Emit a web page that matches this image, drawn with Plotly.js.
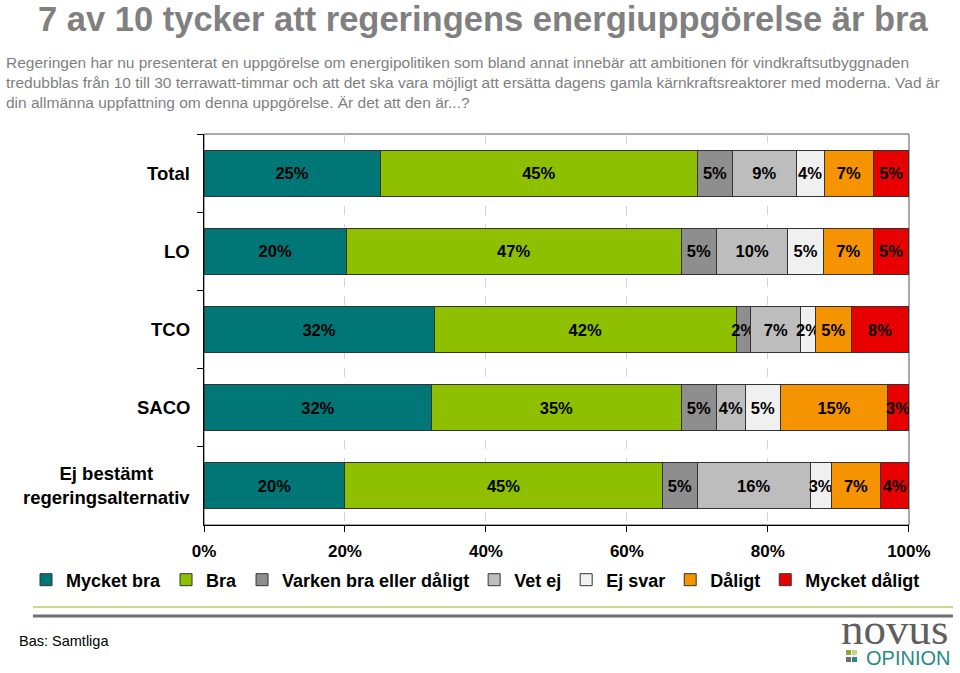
<!DOCTYPE html>
<html>
<head>
<meta charset="utf-8">
<script src="https://cdn.plot.ly/plotly-3.0.1.min.js"></script>
<style>
  html, body { margin: 0; padding: 0; background: #ffffff; }
  #chart { width: 960px; height: 673px; }
</style>
</head>
<body>
<div id="chart"></div>
<script>
// ---- Data ----
const categories = ['Total', 'LO', 'TCO', 'SACO', 'Ej bestämt<br>regeringsalternativ'];
const seriesNames = ['Mycket bra', 'Bra', 'Varken bra eller dåligt', 'Vet ej', 'Ej svar', 'Dåligt', 'Mycket dåligt'];
const mycketBra    = [25, 20, 32, 32, 20];
const bra          = [45, 47, 42, 35, 45];
const varken       = [5, 5, 2, 5, 5];
const vetEj        = [9, 10, 7, 4, 16];
const ejSvar       = [4, 5, 2, 5, 3];
const daligt       = [7, 7, 5, 15, 7];
const mycketDaligt = [5, 5, 8, 3, 4];
const xTickValues  = [0, 20, 40, 60, 80, 100];

const seriesValues = [mycketBra, bra, varken, vetEj, ejSvar, daligt, mycketDaligt];
const seriesColors = ['#007676', '#8fc000', '#8e8e8e', '#bdbdbd', '#f0f0f0', '#f59300', '#e80000'];

const FONT = 'Liberation Sans, Arial, Helvetica, sans-serif';

const traces = seriesNames.map((name, i) => ({
  type: 'bar',
  orientation: 'h',
  name: name,
  y: categories,
  x: seriesValues[i],
  text: seriesValues[i].map(v => v + '%'),
  textposition: 'inside',
  insidetextanchor: 'middle',
  constraintext: 'none',
  textangle: 0,
  textfont: { family: FONT, size: 16.5, color: '#000000', weight: 'bold' },
  marker: { color: seriesColors[i], line: { color: '#333333', width: 1 } },
  hoverinfo: 'skip'
}));

// plot area in px: x 204..909, y 134..525
const pl = 204, pr = 909, pt = 134, pb = 525;
const px2paperX = px => (px - pl) / (pr - pl);
const px2paperY = py => (pb - py) / (pb - pt);

const annotations = [];
// Category labels (centered multi-line)
categories.forEach(c => {
  annotations.push({
    xref: 'paper', yref: 'y', x: px2paperX(192), y: c,
    xanchor: 'right', yanchor: 'middle', align: 'center',
    text: c, showarrow: false,
    font: { family: FONT, size: 18.5, color: '#000000', weight: 'bold' }
  });
});
// Subtitle
annotations.push({
  xref: 'paper', yref: 'paper', x: px2paperX(4), y: px2paperY(52),
  xanchor: 'left', yanchor: 'top', align: 'left', showarrow: false,
  text: 'Regeringen har nu presenterat en uppgörelse om energipolitiken som bland annat innebär att ambitionen för vindkraftsutbyggnaden<br>' +
        'tredubblas från 10 till 30 terrawatt-timmar och att det ska vara möjligt att ersätta dagens gamla kärnkraftsreaktorer med moderna. Vad är<br>' +
        'din allmänna uppfattning om denna uppgörelse. Är det att den är...?',
  font: { family: FONT, size: 15.5, color: '#7f7f7f' }
});
// Footer
annotations.push({
  xref: 'paper', yref: 'paper', x: px2paperX(17), y: px2paperY(641),
  xanchor: 'left', yanchor: 'middle', showarrow: false,
  text: 'Bas: Samtliga',
  font: { family: FONT, size: 14.5, color: '#000000' }
});
// Logo text
annotations.push({
  xref: 'paper', yref: 'paper', x: px2paperX(951), y: px2paperY(629),
  xanchor: 'right', yanchor: 'middle', showarrow: false,
  text: 'novus',
  font: { family: 'Liberation Serif, Times New Roman, serif', size: 45, color: '#5f5f5f' }
});
annotations.push({
  xref: 'paper', yref: 'paper', x: px2paperX(952), y: px2paperY(658),
  xanchor: 'right', yanchor: 'middle', showarrow: false,
  text: 'OPINION',
  font: { family: FONT, size: 20, color: '#2a8a82' }
});

const shapes = [
  // plot frame (top/right grey)
  { type: 'rect', xref: 'paper', yref: 'paper', x0: 0, x1: 1, y0: 0, y1: 1,
    line: { color: '#555555', width: 1 }, layer: 'below' },
  // footer lines
  { type: 'line', xref: 'paper', yref: 'paper', x0: px2paperX(33), x1: px2paperX(953),
    y0: px2paperY(607), y1: px2paperY(607), line: { color: '#c9d88f', width: 2 } },
  { type: 'line', xref: 'paper', yref: 'paper', x0: px2paperX(33), x1: px2paperX(953),
    y0: px2paperY(616), y1: px2paperY(616), line: { color: '#6e6e6e', width: 3 } },
];
// logo squares
const sq = [
  [846, 650, '#8aa83a'], [852, 650, '#c2d77e'],
  [846, 657, '#6e6e6e'], [852, 657, '#2a8a82']
];
sq.forEach(s => shapes.push({
  type: 'rect', xref: 'paper', yref: 'paper',
  x0: px2paperX(s[0]), x1: px2paperX(s[0] + 5),
  y0: px2paperY(s[1] + 5), y1: px2paperY(s[1]),
  line: { width: 0 }, fillcolor: s[2]
}));

const layout = {
  width: 960, height: 673,
  margin: { l: pl, r: 960 - pr, t: pt, b: 673 - pb, pad: 0, autoexpand: false },
  paper_bgcolor: '#ffffff', plot_bgcolor: '#ffffff',
  font: { family: FONT, color: '#000000' },
  title: {
    text: '7 av 10 tycker att regeringens energiuppgörelse är bra',
    xref: 'container', yref: 'container', x: 0.503, y: 1 - 19 / 673,
    xanchor: 'center', yanchor: 'middle',
    font: { family: FONT, size: 34.5, color: '#808080', weight: 'bold' }
  },
  barmode: 'stack',
  barnorm: 'percent',
  bargap: 0.41,
  hovermode: false,
  showlegend: true,
  legend: {
    orientation: 'h', traceorder: 'normal',
    xref: 'paper', yref: 'paper',
    x: px2paperX(26), xanchor: 'left', y: px2paperY(580), yanchor: 'middle',
    font: { family: FONT, size: 18, color: '#000000', weight: 'bold' },
    itemwidth: 30, bgcolor: 'rgba(0,0,0,0)', borderwidth: 0
  },
  xaxis: {
    range: [0, 100.02], tickvals: xTickValues, ticktext: xTickValues.map(v => v + '%'),
    showgrid: true, gridcolor: '#d4d4d4', griddash: 'dash', gridwidth: 1,
    zeroline: false, showline: true, linecolor: '#000000', linewidth: 1,
    ticks: 'outside', ticklen: 6, tickcolor: '#000000', ticklabelstandoff: 5,
    tickfont: { family: FONT, size: 17, color: '#000000', weight: 'bold' },
    fixedrange: true
  },
  yaxis: {
    type: 'category', autorange: 'reversed',
    showticklabels: false, showgrid: false, zeroline: false,
    showline: true, linecolor: '#000000', linewidth: 1,
    ticks: 'outside', tickson: 'boundaries', ticklen: 6, tickcolor: '#000000',
    fixedrange: true
  },
  annotations: annotations,
  shapes: shapes
};

Plotly.newPlot('chart', traces, layout, { displayModeBar: false, staticPlot: true });
</script>
</body>
</html>
